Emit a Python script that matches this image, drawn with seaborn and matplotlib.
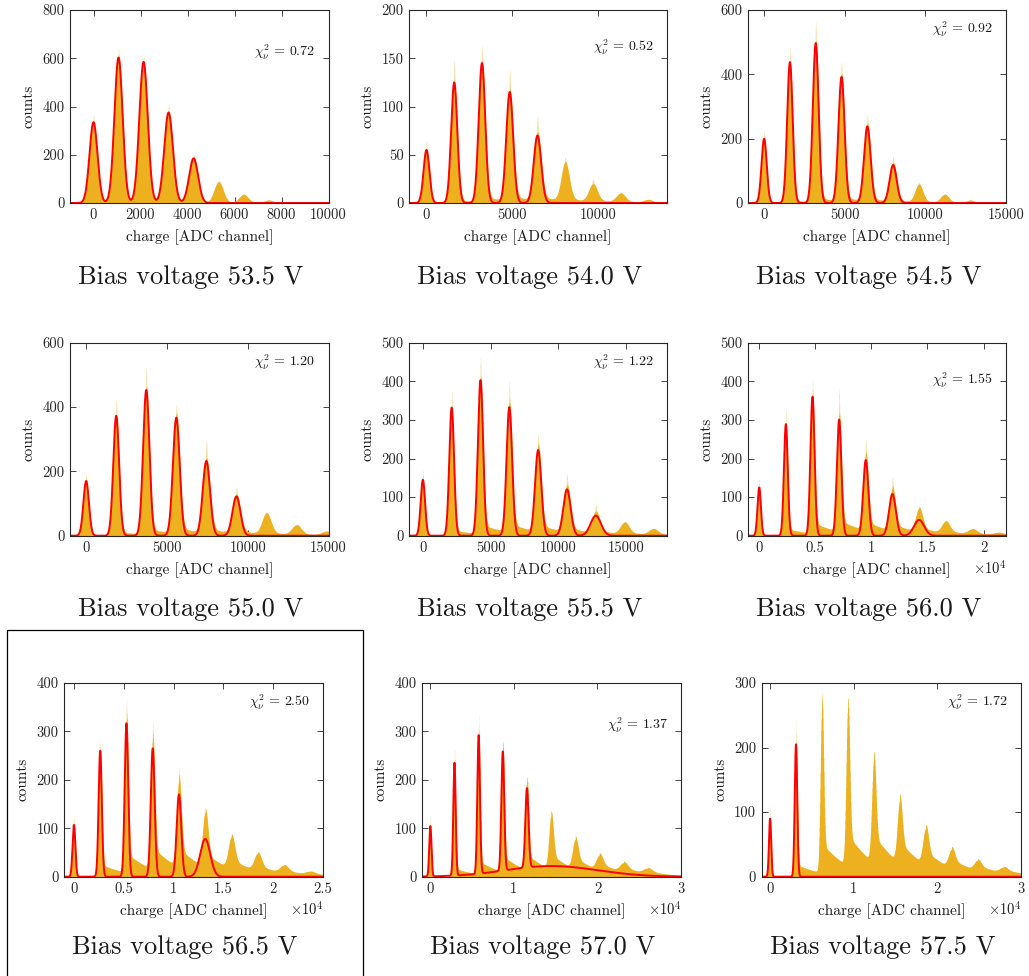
import numpy as np
import pandas as pd
import matplotlib
matplotlib.use("Agg")
import matplotlib.pyplot as plt
import seaborn as sns
from matplotlib.ticker import FixedLocator, FuncFormatter
from matplotlib.patches import Rectangle

# ---------------------------------------------------------------- data
bias_voltage = [53.5, 54.0, 54.5, 55.0, 55.5, 56.0, 56.5, 57.0, 57.5]
chi2_nu = [0.72, 0.52, 0.92, 1.20, 1.22, 1.55, 2.50, 1.37, 1.72]

# photo-electron peak spacing (ADC channels per p.e.)
peak_gain = [1065, 1615, 1600, 1860, 2125, 2375, 2635, 2890, 3100]

# measured spectrum: peak heights (bulk), peak-top maxima, widths, right-hand shoulders
hist_peak_counts = [
    [330, 600, 583, 375, 190, 88, 35, 12, 3],
    [55, 125, 145, 115, 70, 40, 18, 9, 3],
    [200, 440, 500, 395, 240, 120, 55, 25, 8],
    [170, 375, 455, 370, 230, 120, 65, 30, 12],
    [145, 330, 405, 335, 222, 120, 55, 30, 15],
    [125, 290, 360, 302, 197, 110, 60, 30, 13, 6],
    [108, 258, 318, 268, 178, 112, 65, 35, 15, 6],
    [105, 235, 292, 258, 183, 110, 60, 30, 18, 10],
    [90, 205, 262, 245, 158, 95, 55, 28, 15, 8],
]
hist_spike_counts = [
    [365, 640, 615, 410, 205, 95, 40, 15, 4],
    [65, 148, 163, 138, 90, 48, 25, 12, 4],
    [225, 485, 565, 440, 275, 145, 65, 30, 12],
    [195, 425, 525, 410, 295, 150, 75, 35, 15],
    [170, 375, 465, 400, 265, 160, 80, 35, 18],
    [148, 330, 408, 379, 252, 153, 78, 39, 16, 7],
    [128, 282, 370, 322, 228, 132, 75, 40, 18, 8],
    [125, 268, 335, 283, 205, 138, 72, 38, 22, 10],
    [110, 240, 285, 270, 190, 110, 65, 35, 18, 10],
]
hist_sigma = [
    [170, 175, 180, 185, 190, 195, 200, 205, 210],
    [170, 180, 190, 200, 215, 230, 245, 260, 275],
    [160, 170, 180, 190, 205, 220, 235, 250, 265],
    [170, 180, 195, 210, 225, 245, 265, 285, 300],
    [160, 175, 190, 205, 225, 250, 280, 310, 340],
    [150, 170, 185, 200, 225, 260, 300, 340, 380, 420],
    [140, 160, 180, 200, 230, 270, 310, 350, 400, 450],
    [130, 150, 165, 180, 200, 260, 320, 380, 440, 500],
    [130, 160, 190, 210, 240, 280, 320, 360, 400, 450],
]
shoulder_counts = [
    [0, 2, 2, 2, 1, 1, 0, 0, 0],
    [0, 4, 6, 6, 5, 3, 2, 1, 0],
    [0, 10, 16, 14, 10, 6, 3, 1, 0],
    [0, 14, 20, 20, 16, 10, 6, 3, 1],
    [0, 16, 26, 24, 20, 13, 8, 5, 2],
    [0, 20, 30, 32, 26, 20, 13, 7, 4, 1],
    [0, 28, 42, 48, 42, 32, 22, 13, 7, 3],
    [0, 18, 28, 34, 34, 34, 27, 18, 12, 6],
    [0, 20, 48, 52, 46, 36, 24, 16, 10, 6],
]

# multi-Gaussian fit: fitted peak amplitudes and widths
fit_peak_counts = [
    [335, 603, 585, 375, 185],
    [55, 125, 145, 115, 70],
    [200, 438, 497, 392, 238, 118],
    [170, 373, 453, 367, 232, 122],
    [145, 332, 403, 333, 222, 120, 52],
    [125, 289, 360, 301, 196, 108, 41],
    [107, 260, 317, 265, 170, 78],
    [104, 233, 286, 246, 164],
    [90, 205],
]
fit_sigma = [
    [170, 175, 180, 185, 190],
    [170, 180, 190, 200, 215],
    [160, 170, 180, 190, 205, 220],
    [170, 180, 195, 210, 225, 245],
    [160, 175, 190, 205, 230, 270, 380],
    [150, 170, 185, 200, 230, 300, 450],
    [140, 160, 175, 195, 230, 500],
    [130, 140, 155, 170, 190],
    [130, 150],
]
# broad background term of the fit (amplitude, centre, width); zero when unused
fit_broad = [
    [0, 0, 1], [0, 0, 1], [0, 0, 1], [0, 0, 1], [0, 0, 1],
    [0, 0, 1], [0, 0, 1], [22, 14500, 5500], [0, 0, 1],
]

# axis ranges and ticks
x_min = -1000
x_max = [10000, 14000, 15000, 15000, 18000, 22000, 25000, 30000, 30000]
x_step = [2000, 5000, 5000, 5000, 5000, 5000, 5000, 10000, 10000]
y_max = [800, 200, 600, 600, 500, 500, 400, 400, 300]
y_step = [200, 50, 200, 200, 100, 100, 100, 100, 100]
x_sci = [False, False, False, False, False, True, True, True, True]

# ---------------------------------------------------------------- style
sns.set_style("ticks")
plt.rcParams.update({
    "font.family": "serif",
    "font.serif": ["cmr10"],
    "mathtext.fontset": "cm",
    "axes.formatter.use_mathtext": True,
    "axes.unicode_minus": False,
    "axes.edgecolor": "#262626",
    "axes.linewidth": 0.8,
    "xtick.color": "#262626",
    "ytick.color": "#262626",
    "text.color": "#1a1a1a",
    "axes.labelcolor": "#1a1a1a",
})

BAR = "#EDB120"
W, H = 1029, 976
N_BINS = 1100
fig = plt.figure(figsize=(W / 100, H / 100), dpi=100)

# axes boxes in pixels: (left, top, right, bottom)
axes_px = [
    (70, 10, 328.5, 203), (409.3, 10, 667, 203), (748, 10, 1006, 203),
    (70, 342.7, 328.5, 535.7), (409.3, 342.7, 667, 535.7), (748, 342.7, 1006, 535.7),
    (64, 683, 323, 876.7), (422, 683, 681, 876.7), (761.7, 683, 1021, 876.7),
]
chi_y = [0.78, 0.805, 0.90, 0.90, 0.90, 0.807, 0.90, 0.78, 0.90]
title_baseline = [284, 284, 284, 616, 616, 616, 954, 954, 954]


def gauss_sum(x, centres, heights, sigmas):
    y = np.zeros_like(x)
    for c, h, s in zip(centres, heights, sigmas):
        y += h * np.exp(-0.5 * ((x - c) / s) ** 2)
    return y


def shoulders(x, centres, amps, sigmas, gain):
    """Crosstalk/afterpulse tail: smooth onset right of each peak, then exponential decay."""
    y = np.zeros_like(x)
    for c, a, s in zip(centres, amps, sigmas):
        d = x - c
        onset = 1.0 / (1.0 + np.exp(-np.clip((d - 0.8 * s) / (0.8 * s), -60, 60)))
        y += np.where(d > 0, a * onset * np.exp(-np.clip(d, 0, None) / (0.9 * gain)), 0.0)
    return y


for i in range(9):
    l, t, r, b = axes_px[i]
    ax = fig.add_axes([l / W, 1 - b / H, (r - l) / W, (b - t) / H])

    gain = peak_gain[i]
    n_hist = len(hist_peak_counts[i])
    centres = gain * np.arange(n_hist)

    edges = np.linspace(x_min, x_max[i], N_BINS + 1)
    mids = 0.5 * (edges[:-1] + edges[1:])
    sig = np.array(hist_sigma[i], dtype=float)

    bulk = gauss_sum(mids, centres, hist_peak_counts[i], sig) + \
        shoulders(mids, centres, shoulder_counts[i], sig, gain)
    tips = gauss_sum(mids, centres, hist_spike_counts[i], 0.45 * sig)
    tips = np.maximum(tips, bulk)
    spec = pd.DataFrame({"charge": mids, "bulk": bulk, "tips": tips})

    sns.histplot(data=spec, x="charge", weights="tips", bins=N_BINS,
                 binrange=(x_min, x_max[i]), element="step",
                 fill=True, color=BAR, alpha=0.4, linewidth=0, ax=ax)
    sns.histplot(data=spec, x="charge", weights="bulk", bins=N_BINS,
                 binrange=(x_min, x_max[i]), element="step",
                 fill=True, color=BAR, alpha=1.0, linewidth=0, ax=ax)

    xg = np.linspace(x_min, x_max[i], 4000)
    n_fit = len(fit_peak_counts[i])
    amp, mu, wid = fit_broad[i]
    fit = gauss_sum(xg, gain * np.arange(n_fit), fit_peak_counts[i], fit_sigma[i]) + \
        amp * np.exp(-0.5 * ((xg - mu) / wid) ** 2)
    sns.lineplot(x=xg, y=fit, color="#FF0000", linewidth=1.4, ax=ax, estimator=None)

    ax.set_xlim(x_min, x_max[i])
    ax.set_ylim(0, y_max[i])
    ax.xaxis.set_major_locator(FixedLocator(np.arange(0, x_max[i] + 1, x_step[i])))
    ax.yaxis.set_major_locator(FixedLocator(np.arange(0, y_max[i] + 1, y_step[i])))
    if x_sci[i]:
        ax.xaxis.set_major_formatter(FuncFormatter(lambda v, p: f"{v / 1e4:g}"))
        ax.text(1.0, -0.165, r"$\times10^{4}$", transform=ax.transAxes,
                ha="right", va="center", fontsize=10.5)
    else:
        ax.xaxis.set_major_formatter(FuncFormatter(lambda v, p: f"{v:g}"))
    ax.yaxis.set_major_formatter(FuncFormatter(lambda v, p: f"{v:g}"))

    ax.tick_params(direction="in", top=True, right=True, length=4, width=0.6,
                   labelsize=10.5, pad=4)
    for sp in ax.spines.values():
        sp.set_visible(True)

    ax.set_xlabel("charge [ADC channel]", fontsize=11, labelpad=5)
    ax.set_ylabel("counts", fontsize=11, labelpad=5)

    ax.text(0.95, chi_y[i], rf"$\chi^2_\nu \,=\, {chi2_nu[i]:.2f}$", transform=ax.transAxes,
            ha="right", va="center", fontsize=10)

    fig.text((0.5 * (l + r) - 8.5) / W, 1 - title_baseline[i] / H,
             f"Bias voltage {bias_voltage[i]:.1f} V", ha="center", va="baseline",
             fontsize=19)

# frame around the 56.5 V panel
fig.patches.append(Rectangle((7 / W, -0.02), (363 - 7) / W, 0.02 + 1 - 630 / H,
                             transform=fig.transFigure, fill=False,
                             edgecolor="black", linewidth=0.9))

fig.savefig("out.png", dpi=100)
